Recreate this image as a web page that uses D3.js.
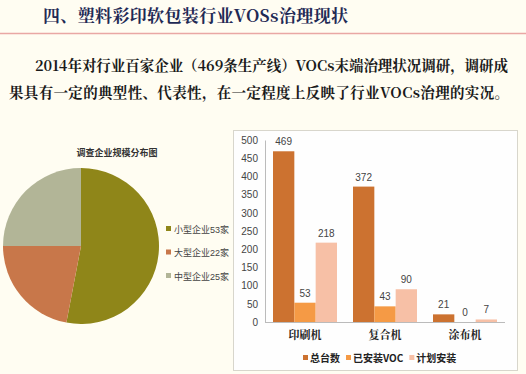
<!DOCTYPE html>
<html>
<head>
<meta charset="utf-8">
<script src="https://cdn.jsdelivr.net/npm/d3@7"></script>
<style>
  html, body { margin: 0; padding: 0; background: #fffdf2; }
  svg { display: block; }
</style>
</head>
<body>
<svg id="chart" width="526" height="374"></svg>
<script>
// slide text
const heading = '四、塑料彩印软包装行业VOSs治理现状';
const paraLines = [
  '2014年对行业百家企业（469条生产线）VOCs末端治理状况调研，调研成',
  '果具有一定的典型性、代表性，在一定程度上反映了行业VOCs治理的实况。'
];

// pie data
const pieTitle = '调查企业规模分布图';
const pieLabels = ['小型企业53家', '大型企业22家', '中型企业25家'];
const pieValues = [53, 22, 25];
const pieColors = ['#8f8619', '#c8774a', '#b2b597'];

// bar data
const machines = ['印刷机', '复合机', '涂布机'];
const seriesNames = ['总台数', '已安装VOC', '计划安装'];
const totalCount = [469, 372, 21];
const installed = [53, 43, 0];
const planned = [218, 90, 7];
const barColors = ['#cc7230', '#f59a45', '#f7c0a6'];
const yTicks = [0, 50, 100, 150, 200, 250, 300, 350, 400, 450, 500];

const svg = d3.select('#chart');
const serif = '"Noto Serif CJK SC", "Noto Sans CJK SC", serif';
const sans = '"Liberation Sans", "Noto Sans CJK SC", sans-serif';

// heading + rule
svg.append('text')
  .attr('x', 43).attr('y', 22)
  .attr('font-family', serif)
  .attr('font-size', 17).attr('font-weight', 'bold')
  .attr('fill', '#1f2a55')
  .attr('textLength', 305)
  .text(heading);

svg.append('line')
  .attr('x1', 0).attr('x2', 526)
  .attr('y1', 33.5).attr('y2', 33.5)
  .attr('stroke', '#e9a7a4').attr('stroke-width', 1.5);

svg.selectAll('text.para')
  .data(paraLines)
  .join('text')
  .attr('class', 'para')
  .attr('x', (d, i) => i === 0 ? 35 : 9)
  .attr('y', (d, i) => 71 + i * 27)
  .attr('font-family', serif)
  .attr('font-size', 14.5).attr('font-weight', 'bold')
  .attr('fill', '#1a1a1a')
  .attr('textLength', (d, i) => i === 0 ? 473 : 500)
  .text(d => d);

// ---- pie ----
const pieG = svg.append('g').attr('transform', 'translate(81,246)');
const pie = d3.pie().sort(null).value(d => d);
const arc = d3.arc().innerRadius(0).outerRadius(78);

pieG.selectAll('path')
  .data(pie(pieValues))
  .join('path')
  .attr('d', arc)
  .attr('fill', (d, i) => pieColors[i]);

svg.append('text')
  .attr('x', 117).attr('y', 156)
  .attr('text-anchor', 'middle')
  .attr('font-family', sans)
  .attr('font-size', 9).attr('font-weight', 'bold')
  .attr('fill', '#333')
  .text(pieTitle);

const pieLeg = svg.selectAll('g.pieleg')
  .data(pieLabels)
  .join('g')
  .attr('class', 'pieleg')
  .attr('transform', (d, i) => `translate(166,${229 + i * 23.5})`);
pieLeg.append('rect')
  .attr('x', 0).attr('y', -3).attr('width', 5).attr('height', 5)
  .attr('fill', (d, i) => pieColors[i]);
pieLeg.append('text')
  .attr('x', 8).attr('y', 3.5)
  .attr('font-family', sans)
  .attr('font-size', 9)
  .attr('fill', '#444')
  .text(d => d);

// ---- bar chart ----
svg.append('rect')
  .attr('x', 233.5).attr('y', 130.5)
  .attr('width', 284).attr('height', 240)
  .attr('fill', '#fefefe')
  .attr('stroke', '#d8d6cc');

const y = d3.scaleLinear().domain([0, 500]).range([322, 140]);
const x0 = d3.scaleBand().domain(machines).range([265, 505]).paddingInner(0.2).paddingOuter(0.1);
const x1 = d3.scaleBand().domain(seriesNames).range([0, x0.bandwidth()]);

const yAxis = svg.append('g')
  .attr('transform', 'translate(265,0)')
  .call(d3.axisLeft(y).tickValues(yTicks).tickSize(0).tickPadding(7));
yAxis.select('.domain').attr('stroke', '#bbb');
yAxis.selectAll('text')
  .attr('font-family', sans).attr('font-size', 10).attr('fill', '#444');

const xAxis = svg.append('g')
  .attr('transform', 'translate(0,322)')
  .call(d3.axisBottom(x0).tickSize(0).tickPadding(9));
xAxis.select('.domain').attr('stroke', '#bbb').attr('d', 'M265,0.5H505');
xAxis.selectAll('text')
  .attr('font-family', serif).attr('font-size', 11).attr('font-weight', 'bold')
  .attr('fill', '#222');

const seriesData = [totalCount, installed, planned];
const groups = svg.selectAll('g.grp')
  .data(machines)
  .join('g')
  .attr('class', 'grp')
  .attr('transform', d => `translate(${x0(d)},0)`);

groups.each(function (m, mi) {
  const g = d3.select(this);
  seriesNames.forEach((s, si) => {
    const v = seriesData[si][mi];
    g.append('rect')
      .attr('x', x1(s)).attr('width', x1.bandwidth())
      .attr('y', y(v)).attr('height', y(0) - y(v))
      .attr('fill', barColors[si]);
    g.append('text')
      .attr('x', x1(s) + x1.bandwidth() / 2)
      .attr('y', y(v) - 6)
      .attr('text-anchor', 'middle')
      .attr('font-family', sans).attr('font-size', 10)
      .attr('fill', '#444')
      .text(v);
  });
});

// bar legend, laid out one after another
let legCursor = 303;
seriesNames.forEach((s, i) => {
  const g = svg.append('g').attr('transform', `translate(${legCursor},358)`);
  g.append('rect')
    .attr('x', 0).attr('y', -3).attr('width', 5).attr('height', 5)
    .attr('fill', barColors[i]);
  const t = g.append('text')
    .attr('x', 7).attr('y', 4)
    .attr('font-family', '"Noto Sans CJK SC", sans-serif').attr('font-size', 10)
    .attr('font-weight', 'bold')
    .attr('fill', '#222')
    .text(s);
  legCursor += 7 + t.node().getComputedTextLength() + 6;
});
</script>
</body>
</html>
